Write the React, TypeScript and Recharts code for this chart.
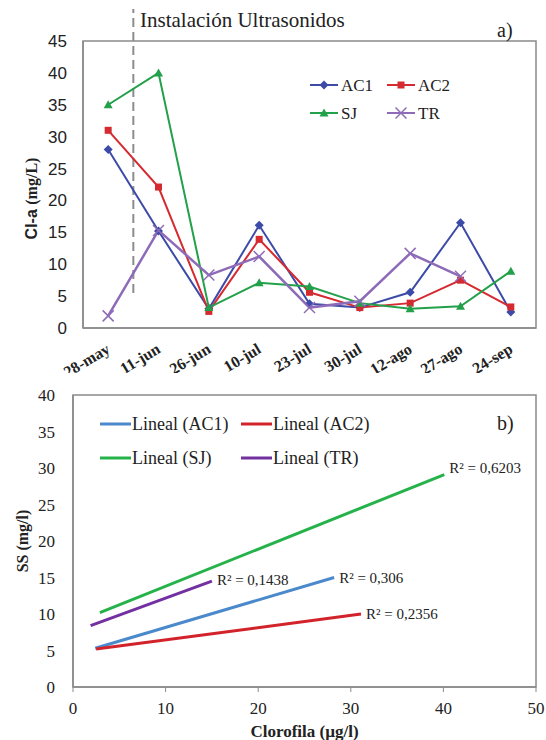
import { LineChart, Line, XAxis, YAxis, ReferenceLine, ReferenceArea, Legend, LabelList } from "recharts"

// a) Cl-a por fecha de muestreo
const fechas = ["28-may", "11-jun", "26-jun", "10-jul", "23-jul", "30-jul", "12-ago", "27-ago", "24-sep"]
const ac1 = [28, 15.2, 3.0, 16.1, 3.8, 3.2, 5.6, 16.5, 2.5]
const ac2 = [31, 22.1, 2.6, 13.9, 5.6, 3.2, 3.9, 7.5, 3.3]
const sj = [35, 40, 3.2, 7.1, 6.5, 3.9, 3.0, 3.4, 8.9]
const tr = [1.9, 15.3, 8.3, 11.2, 3.2, 4.2, 11.7, 8.1, null]
const clTicks = [0, 5, 10, 15, 20, 25, 30, 35, 40, 45]

// b) lineas de tendencia SS vs clorofila
const cloAC1 = [2.4, 28.2]
const ssAC1 = [5.3, 15.0]
const cloAC2 = [2.5, 31.1]
const ssAC2 = [5.2, 10.0]
const cloSJ = [2.9, 40.1]
const ssSJ = [10.2, 29.1]
const cloTR = [1.9, 15.0]
const ssTR = [8.4, 14.5]
const r2AC1 = "R² = 0,306"
const r2AC2 = "R² = 0,2356"
const r2SJ = "R² = 0,6203"
const r2TR = "R² = 0,1438"
const ssTicks = [0, 5, 10, 15, 20, 25, 30, 35, 40]
const cloTicks = [0, 10, 20, 30, 40, 50]

const SERIF = "'Liberation Serif', 'Times New Roman', serif"
const SANS = "'Liberation Sans', Arial, sans-serif"
const GRAY = "#8a8a8a"
const TXT = "#222"

const rowsA = fechas.map((f, i) => ({ i, fecha: f, AC1: ac1[i], AC2: ac2[i], SJ: sj[i], TR: tr[i] }))

const trend = (xs: number[], ys: number[], r2: string) =>
    xs.map((x, i) => ({ x, y: ys[i], r2: i === xs.length - 1 ? r2 : undefined }))

const MARK: Record<string, string> = { AC1: "diamond", AC2: "square", SJ: "triangle", TR: "cross" }

function Marker({ shape, cx, cy, color }: any) {
    if (shape === "diamond")
        return <path d={`M${cx},${cy - 4.5}L${cx + 4.5},${cy}L${cx},${cy + 4.5}L${cx - 4.5},${cy}Z`} fill={color} />
    if (shape === "square") return <rect x={cx - 3.5} y={cy - 3.5} width={7} height={7} fill={color} />
    if (shape === "triangle")
        return <path d={`M${cx},${cy - 4.5}L${cx + 4.5},${cy + 3.5}L${cx - 4.5},${cy + 3.5}Z`} fill={color} />
    return (
        <g stroke={color} strokeWidth={1.5}>
            <line x1={cx - 5.5} y1={cy - 5.5} x2={cx + 5.5} y2={cy + 5.5} />
            <line x1={cx - 5.5} y1={cy + 5.5} x2={cx + 5.5} y2={cy - 5.5} />
        </g>
    )
}

const makeDot = (shape: string, color: string) => (p: any) => {
    if (p.cx == null || p.cy == null || p.value == null) return <g key={`${shape}-${p.index}`} />
    return (
        <g key={`${shape}-${p.index}`}>
            <Marker shape={shape} cx={p.cx} cy={p.cy} color={color} />
        </g>
    )
}

const FechaTick = (props: any) => {
    const { x, y, payload } = props
    const ax = x + 3
    const ay = y + 22
    return (
        <text
            x={ax}
            y={ay}
            transform={`rotate(-31, ${ax}, ${ay})`}
            textAnchor="end"
            fontFamily={SERIF}
            fontWeight="bold"
            fontSize={16}
            fill={TXT}
        >
            {fechas[payload.value]}
        </text>
    )
}

const LegendA = ({ payload }: any) => (
    <div style={{ display: "grid", gridTemplateColumns: "77px 77px", fontFamily: SERIF, fontSize: 17, color: TXT }}>
        {(payload || []).map((e: any) => (
            <div key={e.value} style={{ display: "flex", alignItems: "center", height: 28 }}>
                <svg width={28} height={14}>
                    <line x1={0} y1={7} x2={28} y2={7} stroke={e.color} strokeWidth={2} />
                    <Marker shape={MARK[e.value]} cx={14} cy={7} color={e.color} />
                </svg>
                <span style={{ marginLeft: 3, lineHeight: 1 }}>{e.value}</span>
            </div>
        ))}
    </div>
)

const LegendB = ({ payload }: any) => (
    <div style={{ display: "grid", gridTemplateColumns: "141px 141px", fontFamily: SERIF, fontSize: 18, color: TXT }}>
        {(payload || []).map((e: any) => (
            <div key={e.value} style={{ display: "flex", alignItems: "center", height: 34 }}>
                <svg width={31} height={6}>
                    <line x1={0} y1={3} x2={31} y2={3} stroke={e.color} strokeWidth={3} />
                </svg>
                <span style={{ marginLeft: 1, lineHeight: 1 }}>{e.value}</span>
            </div>
        ))}
    </div>
)

const r2Label = (dy: number) => (p: any) => {
    if (p.value == null) return null
    return (
        <text x={p.x + 5} y={p.y + dy} dominantBaseline="central" fontFamily={SERIF} fontSize={15} fill={TXT}>
            {p.value}
        </text>
    )
}

export default function App() {
    return (
        <div style={{ position: "absolute", left: 0, top: 0, width: 546, height: 740, background: "#fff" }}>
            <div style={{ position: "absolute", left: 0, top: 0, width: 546, height: 373, overflow: "hidden" }}>
                <LineChart width={546} height={373} data={rowsA} margin={{ top: 41, right: 10, bottom: 0, left: 0 }}>
                    <XAxis
                        type="number"
                        dataKey="i"
                        domain={[-0.5, 8.5]}
                        ticks={[0, 1, 2, 3, 4, 5, 6, 7, 8]}
                        interval={0}
                        height={45}
                        tickLine={false}
                        tickSize={0}
                        axisLine={{ stroke: GRAY, strokeWidth: 1.5 }}
                        tick={<FechaTick />}
                    />
                    <YAxis
                        domain={[0, 45]}
                        ticks={clTicks}
                        width={83}
                        tickLine={false}
                        tickSize={6}
                        tickMargin={10}
                        axisLine={{ stroke: GRAY, strokeWidth: 1.5 }}
                        tick={{ fontFamily: SANS, fontSize: 17, fill: TXT }}
                        label={{
                            content: (p: any) => {
                                const vb = p.viewBox
                                const cx = 31
                                const cy = vb.y + vb.height / 2 + 14
                                return (
                                    <text
                                        transform={`translate(${cx},${cy}) rotate(-90)`}
                                        textAnchor="middle"
                                        dominantBaseline="central"
                                        fontWeight="bold"
                                        fontSize={16}
                                        fill={TXT}
                                    >
                                        <tspan fontFamily={SANS}>Cl-a </tspan>
                                        <tspan fontFamily={SERIF}>(mg/L)</tspan>
                                    </text>
                                )
                            },
                        }}
                    />
                    <ReferenceArea x1={-0.5} x2={8.5} y1={0} y2={45} fill="none" stroke={GRAY} strokeWidth={1.5} />
                    <ReferenceLine
                        segment={[
                            { x: 0.5, y: 5.5 },
                            { x: 0.5, y: 50 },
                        ]}
                        ifOverflow="visible"
                        stroke="#8c8c8c"
                        strokeWidth={2}
                        strokeDasharray="9 5"
                    />
                    <Legend
                        layout="horizontal"
                        verticalAlign="middle"
                        align="center"
                        content={<LegendA />}
                        wrapperStyle={{ left: 310, top: 71, width: 160, height: 56 }}
                    />
                    <Line dataKey="AC1" name="AC1" stroke="#3C4BA8" strokeWidth={2} dot={makeDot("diamond", "#3C4BA8")} isAnimationActive={false} />
                    <Line dataKey="AC2" name="AC2" stroke="#D42A30" strokeWidth={2} dot={makeDot("square", "#D42A30")} isAnimationActive={false} />
                    <Line dataKey="SJ" name="SJ" stroke="#22A04A" strokeWidth={2} dot={makeDot("triangle", "#22A04A")} isAnimationActive={false} />
                    <Line dataKey="TR" name="TR" stroke="#8E6BB8" strokeWidth={2.5} dot={makeDot("cross", "#8E6BB8")} isAnimationActive={false} />
                </LineChart>
            </div>

            <div style={{ position: "absolute", left: 0, top: 373, width: 546, height: 367, overflow: "hidden" }}>
                <LineChart width={546} height={367} margin={{ top: 22, right: 10, bottom: 0, left: 0 }}>
                    <XAxis
                        type="number"
                        dataKey="x"
                        domain={[0, 50]}
                        ticks={cloTicks}
                        interval={0}
                        height={53}
                        tickSize={5}
                        tickMargin={10}
                        tickLine={{ stroke: GRAY }}
                        axisLine={{ stroke: GRAY, strokeWidth: 1.5 }}
                        tick={{ fontFamily: SERIF, fontSize: 17, fill: TXT }}
                        label={{
                            content: (p: any) => {
                                const vb = p.viewBox
                                return (
                                    <text
                                        x={vb.x + vb.width / 2}
                                        y={vb.y + 50}
                                        textAnchor="middle"
                                        fontFamily={SERIF}
                                        fontWeight="bold"
                                        fontSize={17}
                                        fill={TXT}
                                    >
                                        Clorofila (µg/l)
                                    </text>
                                )
                            },
                        }}
                    />
                    <YAxis
                        type="number"
                        dataKey="y"
                        domain={[0, 40]}
                        ticks={ssTicks}
                        width={73}
                        tickLine={false}
                        tickSize={6}
                        tickMargin={12}
                        axisLine={{ stroke: GRAY, strokeWidth: 1.5 }}
                        tick={{ fontFamily: SERIF, fontSize: 17, fill: TXT }}
                        label={{
                            content: (p: any) => {
                                const vb = p.viewBox
                                const cy = vb.y + vb.height / 2
                                return (
                                    <text
                                        transform={`translate(22,${cy}) rotate(-90)`}
                                        textAnchor="middle"
                                        dominantBaseline="central"
                                        fontFamily={SERIF}
                                        fontWeight="bold"
                                        fontSize={16}
                                        fill={TXT}
                                    >
                                        SS (mg/l)
                                    </text>
                                )
                            },
                        }}
                    />
                    <ReferenceArea x1={0} x2={50} y1={0} y2={40} fill="none" stroke={GRAY} strokeWidth={1.5} />
                    <Legend
                        layout="horizontal"
                        verticalAlign="middle"
                        align="center"
                        content={<LegendB />}
                        wrapperStyle={{ left: 100, top: 34, width: 290, height: 68 }}
                    />
                    <Line data={trend(cloAC1, ssAC1, r2AC1)} dataKey="y" name="Lineal (AC1)" stroke="#4A89CB" strokeWidth={3} dot={false} isAnimationActive={false}>
                        <LabelList dataKey="r2" content={r2Label(0)} />
                    </Line>
                    <Line data={trend(cloAC2, ssAC2, r2AC2)} dataKey="y" name="Lineal (AC2)" stroke="#D2232A" strokeWidth={3} dot={false} isAnimationActive={false}>
                        <LabelList dataKey="r2" content={r2Label(0)} />
                    </Line>
                    <Line data={trend(cloSJ, ssSJ, r2SJ)} dataKey="y" name="Lineal (SJ)" stroke="#25B24A" strokeWidth={3} dot={false} isAnimationActive={false}>
                        <LabelList dataKey="r2" content={r2Label(-7)} />
                    </Line>
                    <Line data={trend(cloTR, ssTR, r2TR)} dataKey="y" name="Lineal (TR)" stroke="#7330A0" strokeWidth={3} dot={false} isAnimationActive={false}>
                        <LabelList dataKey="r2" content={r2Label(-1)} />
                    </Line>
                </LineChart>
            </div>

            <svg width={546} height={740} style={{ position: "absolute", left: 0, top: 0, pointerEvents: "none" }}>
                <text x={140} y={27} fontFamily={SERIF} fontSize={21} fill={TXT}>
                    Instalación Ultrasonidos
                </text>
                <text x={497} y={37} fontFamily={SERIF} fontSize={20} fill={TXT}>
                    a)
                </text>
                <text x={497} y={430} fontFamily={SERIF} fontSize={20} fill={TXT}>
                    b)
                </text>
            </svg>
        </div>
    )
}
